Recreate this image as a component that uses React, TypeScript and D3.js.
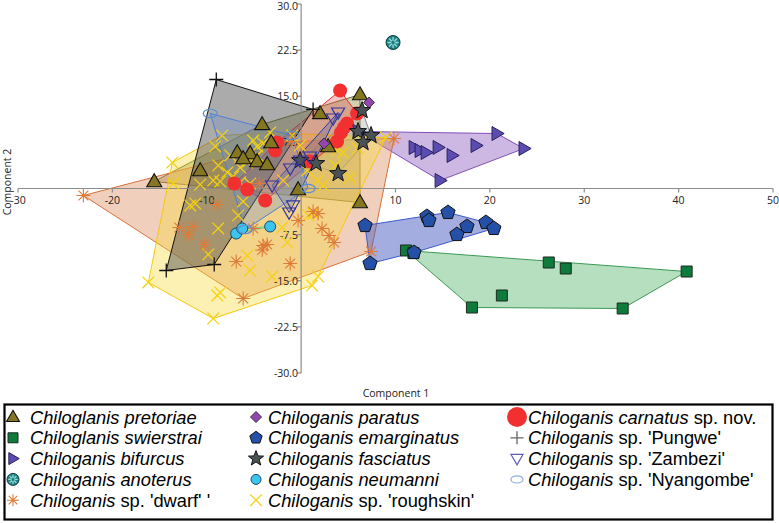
import React from 'react';
import * as d3 from 'd3';

type P = [number, number];

const xTicks = [-30, -20, -10, 10, 20, 30, 40, 50];
const yTicks = [30, 22.5, 15, 7.5, -7.5, -15, -22.5, -30];

const pretoriae: P[] = [
  [-15.56, 1.14], [-10.69, 2.93], [-6.77, 5.85], [-5.4, 5.69], [-4.13, 10.41], [-4.66, 4.39],
  [-3.6, 3.9], [-3.17, 7.48], [-6.14, 4.88], [2.01, 12.2], [2.86, 6.83], [6.24, 15.28],
  [-0.32, -0.16], [6.24, -2.28],
];
const swierstrai: P[] = [
  [11.11, -10.08], [11.9, -10.5], [26.24, -12.03], [28.04, -13.01], [21.27, -17.4], [18.1, -19.35],
  [34.07, -19.51], [40.85, -13.5],
];
const bifurcus: P[] = [
  [6.03, 9.27], [11.96, 6.67], [12.59, 6.18], [13.23, 5.85], [14.5, 6.67], [15.98, 5.37],
  [18.52, 6.99], [20.74, 8.94], [23.6, 6.5], [14.71, 1.3],
];
const anoterus: P[] = [[9.74, 23.74]];
const dwarf: P[] = [
  [-23.07, -1.14], [-1.06, 7.64], [9.84, 8.13], [7.41, -10.24], [-6.14, -17.89], [-8.89, -2.6],
  [-12.91, -6.34], [-11.43, -6.18], [-11.96, -7.48], [-10.26, -9.11], [-6.88, -11.87], [-5.08, -6.5],
  [-4.02, -9.27], [-3.6, -9.11], [-0.32, -5.2], [1.27, -3.74], [1.8, -4.07], [2.22, -6.5],
  [2.96, -7.64], [3.49, -8.78], [-1.16, -12.2], [-4.44, 0.81], [-4.12, -10.0],
];
const paratus: P[] = [[7.2, 13.98], [2.43, 7.32]];
const emarginatus: P[] = [
  [6.77, -6.02], [7.3, -12.2], [11.96, -10.41], [13.33, -4.55], [13.54, -5.2], [15.56, -3.9],
  [17.57, -6.18], [16.51, -7.48], [19.58, -5.53], [20.42, -6.5],
];
const fasciatus: P[] = [
  [6.46, 12.68], [6.03, 9.27], [7.41, 8.62], [6.56, 7.48], [3.92, 2.44], [1.59, 4.07], [-0.11, 4.55],
];
const neumanni: P[] = [[-6.88, -7.32], [-6.24, -6.5], [-3.28, -6.18]];
const roughskin: P[] = [
  [-16.19, -15.28], [-9.31, -21.14], [1.16, -15.77], [1.8, -14.31], [8.99, 8.29], [-13.65, 4.23],
  [-8.36, 8.62], [-5.08, 7.8], [-9.1, 6.83], [-4.66, 6.83], [-6.46, 3.41], [-5.71, 4.23],
  [-7.83, 2.6], [-7.2, 1.95], [-8.57, 1.14], [-10.69, 0.65], [-6.46, 0.98], [-5.4, 0.81],
  [-8.78, 3.74], [-7.51, 5.37], [-4.66, 5.37], [-13.54, 0.81], [-11.75, -2.76], [-8.78, -6.5],
  [-9.84, -10.73], [-5.71, -10.89], [-5.4, -13.33], [-8.89, -17.4], [-8.57, -16.91], [-6.67, -4.39],
  [-11.22, -2.44], [-6.14, -2.11], [-3.07, -14.31], [1.27, -4.07], [-2.01, -6.34], [-1.48, -8.78],
  [0.74, -4.39], [2.33, 0.49], [-0.95, 8.62], [-0.11, 6.99], [4.44, 5.85], [6.03, 6.5],
  [5.19, 1.79], [1.8, 1.3], [0.63, 2.93], [-4.02, 7.32], [-4.87, 5.04], [3.81, 6.18],
  [3.6, 3.74], [-1.9, 1.3], [-3.28, 9.11], [-9.31, 1.3],
];
const carnatus: P[] = [
  [4.13, 15.93], [5.93, 12.2], [4.87, 10.57], [4.55, 9.92], [4.23, 9.11], [3.81, 7.64],
  [0.95, 4.39], [-2.54, 7.48], [-2.75, 6.18], [-7.09, 0.81], [-5.71, -0.16], [-3.81, -1.95],
];
const pungwe: P[] = [[-8.99, 17.72], [1.27, 12.85], [-14.29, -13.33], [-9.21, -12.36]];
const zambezi: P[] = [
  [3.92, 12.36], [3.39, 11.38], [0.95, 5.2], [-0.11, 4.55], [-1.16, 3.25], [-3.07, 0.49],
  [-0.85, -2.76], [-1.27, -3.9],
];
const nyangombe: P[] = [[-9.63, 12.2], [-0.95, 8.62], [0.74, 0.0], [-5.93, -6.67]];

type Kind = 'triUp' | 'triRight' | 'triDown' | 'square' | 'diamond' | 'pentagon' | 'star' | 'circle' |
  'ellipse' | 'plus' | 'x' | 'asterisk' | 'gear';

interface Sp {
  key: string; pts: P[]; kind: Kind; size: number; fill: string; stroke: string; sw: number;
  hullFill?: string; hullOp?: number; hullStroke?: string;
  legSize: number; legStroke?: string; italic: string; normal: string;
}

const species: Sp[] = [
  { key: 'pretoriae', pts: pretoriae, kind: 'triUp', size: 15, fill: '#857722', stroke: '#111', sw: 1.1,
    hullFill: '#8c8a3c', hullOp: 0.4, hullStroke: '#6e6e2c', legSize: 13, italic: 'Chiloglanis pretoriae', normal: '' },
  { key: 'swierstrai', pts: swierstrai, kind: 'square', size: 11, fill: '#0e7a3c', stroke: '#1c2a20', sw: 1,
    hullFill: '#5cb870', hullOp: 0.45, hullStroke: '#3a9a55', legSize: 10, italic: 'Chiloglanis swierstrai', normal: '' },
  { key: 'bifurcus', pts: bifurcus, kind: 'triRight', size: 14, fill: '#5b4db0', stroke: '#2a2060', sw: 1,
    hullFill: '#8e62c0', hullOp: 0.45, hullStroke: '#8050b8', legSize: 12, italic: 'Chiloganis bifurcus', normal: '' },
  { key: 'anoterus', pts: anoterus, kind: 'gear', size: 14, fill: '#1f7f80', stroke: '#0d3d3d', sw: 1,
    legSize: 12, italic: 'Chiloganis anoterus', normal: '' },
  { key: 'dwarf', pts: dwarf, kind: 'asterisk', size: 14, fill: 'none', stroke: '#df7a38', sw: 1.1,
    hullFill: '#da8a5a', hullOp: 0.4, hullStroke: '#d87038', legSize: 12, italic: 'Chiloganis', normal: " sp. 'dwarf' '" },
  { key: 'paratus', pts: paratus, kind: 'diamond', size: 11, fill: '#9146b0', stroke: '#333', sw: 1,
    legSize: 11, italic: 'Chiloganis paratus', normal: '' },
  { key: 'emarginatus', pts: emarginatus, kind: 'pentagon', size: 15, fill: '#2450a8', stroke: '#111', sw: 1,
    hullFill: '#4a5cc0', hullOp: 0.5, hullStroke: '#3a5ad0', legSize: 13, italic: 'Chiloganis emarginatus', normal: '' },
  { key: 'fasciatus', pts: fasciatus, kind: 'star', size: 18, fill: '#4b5256', stroke: '#111', sw: 1,
    hullFill: '#a0a0a0', hullOp: 0.35, hullStroke: '#8a8a8a', legSize: 16, italic: 'Chiloganis fasciatus', normal: '' },
  { key: 'neumanni', pts: neumanni, kind: 'circle', size: 11, fill: '#3cc4ec', stroke: '#1b4a6a', sw: 1,
    hullFill: '#40c0e0', hullOp: 0.3, hullStroke: '#30c0c0', legSize: 10, italic: 'Chiloganis neumanni', normal: '' },
  { key: 'roughskin', pts: roughskin, kind: 'x', size: 13, fill: 'none', stroke: '#f5d10f', sw: 1.3,
    hullFill: '#f6d838', hullOp: 0.38, hullStroke: '#f4c810', legSize: 13, italic: 'Chiloganis', normal: " sp. 'roughskin'" },
  { key: 'carnatus', pts: carnatus, kind: 'circle', size: 14, fill: '#f23030', stroke: 'none', sw: 0,
    hullFill: '#e05050', hullOp: 0.35, hullStroke: '#e83030', legSize: 20, italic: 'Chiloganis carnatus', normal: ' sp. nov.' },
  { key: 'pungwe', pts: pungwe, kind: 'plus', size: 14, fill: 'none', stroke: '#111', sw: 1.3,
    hullFill: '#505050', hullOp: 0.48, hullStroke: '#111', legSize: 13, legStroke: '#666', italic: 'Chiloganis', normal: " sp. 'Pungwe'" },
  { key: 'zambezi', pts: zambezi, kind: 'triDown', size: 13, fill: 'none', stroke: '#34349e', sw: 1.2,
    hullFill: '#5060b0', hullOp: 0.3, hullStroke: '#2a3aa0', legSize: 12, legStroke: '#5a5ab8', italic: 'Chiloganis', normal: " sp. 'Zambezi'" },
  { key: 'nyangombe', pts: nyangombe, kind: 'ellipse', size: 14, fill: 'none', stroke: '#5b8fd8', sw: 1.2,
    hullFill: '#6a90d0', hullOp: 0.3, hullStroke: '#5080d0', legSize: 12, legStroke: '#8aaee0', italic: 'Chiloganis', normal: " sp. 'Nyangombe'" },
];

const drawOrder = ['roughskin', 'dwarf', 'carnatus', 'pretoriae', 'swierstrai', 'bifurcus', 'anoterus', 'paratus',
  'emarginatus', 'fasciatus', 'neumanni', 'pungwe', 'zambezi', 'nyangombe'];

const legendCols = [
  ['pretoriae', 'swierstrai', 'bifurcus', 'anoterus', 'dwarf'],
  ['paratus', 'emarginatus', 'fasciatus', 'neumanni', 'roughskin'],
  ['carnatus', 'pungwe', 'zambezi', 'nyangombe'],
];

function shapePath(kind: Kind, s: number): string {
  const r = s / 2;
  switch (kind) {
    case 'triUp': { const h = s * 0.866; return `M0,${-h * 0.6}L${r},${h * 0.4}L${-r},${h * 0.4}Z`; }
    case 'triRight': { const h = s * 0.866; return `M${h * 0.6},0L${-h * 0.4},${r}L${-h * 0.4},${-r}Z`; }
    case 'triDown': { const h = s * 0.866; return `M0,${h * 0.6}L${r},${-h * 0.4}L${-r},${-h * 0.4}Z`; }
    case 'square': return `M${-r},${-r}h${s}v${s}h${-s}Z`;
    case 'diamond': return `M0,${-r}L${r},0L0,${r}L${-r},0Z`;
    case 'pentagon': {
      const pts = d3.range(5).map(i => { const a = -Math.PI / 2 + i * 2 * Math.PI / 5; return [r * Math.cos(a), r * Math.sin(a)]; });
      return 'M' + pts.map(p => p.join(',')).join('L') + 'Z';
    }
    case 'star': {
      const pts = d3.range(10).map(i => { const a = -Math.PI / 2 + i * Math.PI / 5; const rr = i % 2 ? r * 0.42 : r; return [rr * Math.cos(a), rr * Math.sin(a)]; });
      return 'M' + pts.map(p => p.join(',')).join('L') + 'Z';
    }
    case 'circle':
    case 'gear': return `M${r},0A${r},${r},0,1,1,${-r},0A${r},${r},0,1,1,${r},0Z`;
    case 'ellipse': { const ry = s * 0.3; return `M${r},0A${r},${ry},0,1,1,${-r},0A${r},${ry},0,1,1,${r},0Z`; }
    case 'plus': return `M${-r},0H${r}M0,${-r}V${r}`;
    case 'x': { const q = r * 0.9; return `M${-q},${-q}L${q},${q}M${-q},${q}L${q},${-q}`; }
    case 'asterisk': {
      const q = r * 0.707;
      return `M${-r},0H${r}M0,${-r}V${r}M${-q},${-q}L${q},${q}M${-q},${q}L${q},${-q}`;
    }
  }
  return '';
}

function Marker({ sp, x, y, size, stroke }: { sp: Sp; x: number; y: number; size: number; stroke?: string }) {
  const d = shapePath(sp.kind, size);
  if (sp.kind === 'gear') {
    const r = size / 2;
    const spokes = d3.range(8).map(i => {
      const a = i * Math.PI / 4;
      return `M${0.25 * r * Math.cos(a)},${0.25 * r * Math.sin(a)}L${0.8 * r * Math.cos(a)},${0.8 * r * Math.sin(a)}`;
    }).join('');
    return (
      <g transform={`translate(${x},${y})`}>
        <path d={d} fill={sp.fill} stroke={sp.stroke} strokeWidth={sp.sw} />
        <path d={spokes} stroke="#8fdede" strokeWidth={1.3} fill="none" />
      </g>
    );
  }
  return (
    <path transform={`translate(${x},${y})`} d={d} fill={sp.fill} stroke={stroke ?? sp.stroke}
      strokeWidth={sp.sw} strokeLinejoin="miter" />
  );
}

export default function App() {
  const x = d3.scaleLinear().domain([-30, 50]).range([18, 773]);
  const y = d3.scaleLinear().domain([-30, 30]).range([373, 4]);
  const byKey: Record<string, Sp> = {};
  species.forEach(s => { byKey[s.key] = s; });
  const axisFont = '"Open Sans", "Noto Sans", sans-serif';

  return (
    <svg width={779} height={523} style={{ position: 'absolute', left: 0, top: 0, background: '#fff' }}
      xmlns="http://www.w3.org/2000/svg">
      {species.filter(s => s.hullFill).map(s => {
        const proj = s.pts.map(p => [x(p[0]), y(p[1])] as [number, number]);
        const hull = proj.length >= 3 ? d3.polygonHull(proj) : null;
        if (!hull) return null;
        return (
          <path key={'h' + s.key} d={'M' + hull.map(p => p.join(',')).join('L') + 'Z'}
            fill={s.hullFill} fillOpacity={s.hullOp} stroke={s.hullStroke} strokeWidth={1} />
        );
      })}
      <g stroke="#8c8c8c" strokeWidth={1.2}>
        <line x1={x(-30)} x2={x(50)} y1={y(0)} y2={y(0)} />
        <line x1={x(0)} x2={x(0)} y1={y(30)} y2={y(-30)} />
        {xTicks.map(t => <line key={'xt' + t} x1={x(t)} x2={x(t)} y1={y(0)} y2={y(0) + 4} />)}
        {yTicks.map(t => <line key={'yt' + t} x1={x(0) - 4} x2={x(0)} y1={y(t)} y2={y(t)} />)}
      </g>
      <g fontFamily={axisFont} fontSize={10.5} fill="#222">
        {xTicks.map(t => <text key={'xl' + t} x={x(t)} y={y(0) + 15} textAnchor="middle">{String(t)}</text>)}
        {yTicks.map(t => (
          <text key={'yl' + t} x={x(0) - 3} y={Math.max(y(t) + 4, 10)} textAnchor="end">{t.toFixed(1)}</text>
        ))}
        <text x={396} y={397} textAnchor="middle">Component 1</text>
        <text transform="translate(11,182) rotate(-90)" textAnchor="middle">Component 2</text>
      </g>
      {drawOrder.map(k => {
        const s = byKey[k];
        return (
          <g key={'m' + k}>
            {s.pts.map((p, i) => <Marker key={i} sp={s} x={x(p[0])} y={y(p[1])} size={s.size} />)}
          </g>
        );
      })}
      <rect x={4.5} y={404.5} width={768} height={115} fill="none" stroke="#000" strokeWidth={2.2} />
      {legendCols.map((col, ci) => {
        const mx = [13, 256, 517][ci];
        const tx = [30, 268, 528][ci];
        return col.map((k, ri) => {
          const s = byKey[k];
          const cy = 417 + ri * 20.8;
          return (
            <g key={'l' + k}>
              <Marker sp={s} x={mx} y={cy} size={s.legSize} stroke={s.legStroke} />
              <text x={tx} y={cy + 6.5} fontFamily='"Liberation Sans", Arial, sans-serif' fontSize={18.3} fill="#000">
                <tspan fontStyle="italic">{s.italic}</tspan>
                {s.normal ? <tspan>{s.normal}</tspan> : null}
              </text>
            </g>
          );
        });
      })}
    </svg>
  );
}
